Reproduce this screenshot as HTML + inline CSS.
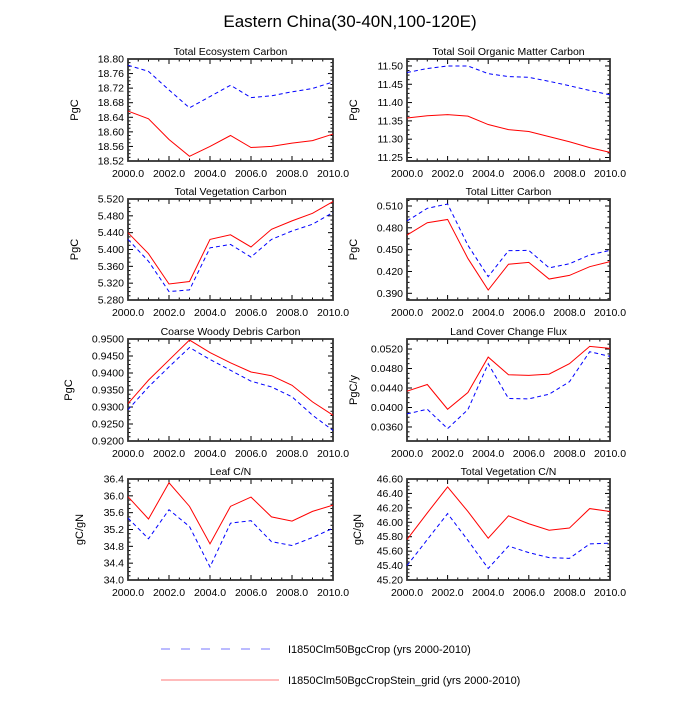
<!DOCTYPE html>
<html><head><meta charset="utf-8"><style>
body{margin:0;background:#fff;width:700px;height:700px;overflow:hidden}
svg text{font-family:"Liberation Sans",sans-serif;fill:#000}
</style></head><body>
<svg id="chart" width="700" height="700" viewBox="0 0 700 700" xmlns="http://www.w3.org/2000/svg">
<text x="350" y="27" font-size="17" text-anchor="middle">Eastern China(30-40N,100-120E)</text>
<g>
<line x1="161" y1="649" x2="276" y2="649" stroke="#7777ff" stroke-width="1" stroke-dasharray="9,11"/>
<text x="288" y="653" font-size="11">I1850Clm50BgcCrop (yrs 2000-2010)</text>
<line x1="161" y1="680" x2="279" y2="680" stroke="#ff7777" stroke-width="1"/>
<text x="288" y="684" font-size="11">I1850Clm50BgcCropStein_grid (yrs 2000-2010)</text>
</g>
</svg>
<script>
const years=[2000,2001,2002,2003,2004,2005,2006,2007,2008,2009,2010];
const ecoBlue=[18.783,18.766,18.715,18.666,18.697,18.728,18.694,18.699,18.710,18.719,18.737];
const ecoRed=[18.657,18.636,18.579,18.533,18.560,18.590,18.557,18.560,18.569,18.576,18.594];
const soilBlue=[11.482,11.493,11.500,11.500,11.479,11.471,11.469,11.458,11.446,11.433,11.421];
const soilRed=[11.358,11.364,11.367,11.363,11.340,11.326,11.321,11.307,11.293,11.277,11.264];
const vegBlue=[5.424,5.372,5.300,5.304,5.404,5.412,5.382,5.424,5.444,5.460,5.488];
const vegRed=[5.440,5.390,5.318,5.324,5.424,5.435,5.406,5.448,5.468,5.486,5.514];
const litBlue=[0.4894,0.5068,0.5127,0.456,0.4129,0.4486,0.449,0.425,0.4306,0.4427,0.449];
const litRed=[0.470,0.487,0.4915,0.4379,0.3945,0.430,0.4325,0.4096,0.4146,0.4266,0.4335];
const cwdBlue=[0.9292,0.9359,0.9418,0.9475,0.944,0.9408,0.9376,0.9359,0.9330,0.9276,0.9231];
const cwdRed=[0.9310,0.9379,0.9438,0.9497,0.9460,0.9430,0.9403,0.9392,0.9364,0.9315,0.9276];
const lccBlue=[0.03868,0.03964,0.03566,0.03957,0.04898,0.04184,0.04177,0.04273,0.04527,0.05145,0.05049];
const lccRed=[0.04335,0.04472,0.03964,0.04307,0.05035,0.04671,0.04658,0.04685,0.04898,0.05255,0.05214];
const leafBlue=[35.47,34.98,35.67,35.27,34.31,35.35,35.41,34.91,34.82,35.01,35.23];
const leafRed=[35.98,35.45,36.31,35.75,34.86,35.75,35.97,35.50,35.40,35.63,35.78];
const vcnBlue=[45.40,45.76,46.12,45.75,45.36,45.67,45.58,45.51,45.50,45.70,45.71];
const vcnRed=[45.76,46.13,46.49,46.15,45.78,46.09,45.98,45.89,45.92,46.19,46.15];
const xTickLabels=["2000.0","2002.0","2004.0","2006.0","2008.0","2010.0"];
const ecoTicks=["18.52","18.56","18.60","18.64","18.68","18.72","18.76","18.80"];
const soilTicks=["11.25","11.30","11.35","11.40","11.45","11.50"];
const vegTicks=["5.280","5.320","5.360","5.400","5.440","5.480","5.520"];
const litTicks=["0.390","0.420","0.450","0.480","0.510"];
const cwdTicks=["0.9200","0.9250","0.9300","0.9350","0.9400","0.9450","0.9500"];
const lccTicks=["0.0360","0.0400","0.0440","0.0480","0.0520"];
const leafTicks=["34.0","34.4","34.8","35.2","35.6","36.0","36.4"];
const vcnTicks=["45.20","45.40","45.60","45.80","46.00","46.20","46.40","46.60"];

const svg=document.getElementById('chart');
const NS='http://www.w3.org/2000/svg';
function mk(tag,attrs,parent){const e=document.createElementNS(NS,tag);for(const k in attrs)e.setAttribute(k,attrs[k]);parent.appendChild(e);return e;}
const panels=[
 {name:'total-ecosystem-carbon',title:'Total Ecosystem Carbon',unit:'PgC',x0:128,x1:333,y0:59,y1:161,ymin:18.52,ymax:18.80,ticks:ecoTicks,b:ecoBlue,r:ecoRed,lx:78},
 {name:'total-soil-carbon',title:'Total Soil Organic Matter Carbon',unit:'PgC',x0:407,x1:610,y0:59,y1:161,ymin:11.2404,ymax:11.519,ticks:soilTicks,b:soilBlue,r:soilRed,lx:357},
 {name:'total-vegetation-carbon',title:'Total Vegetation Carbon',unit:'PgC',x0:128,x1:333,y0:199,y1:300,ymin:5.280,ymax:5.520,ticks:vegTicks,b:vegBlue,r:vegRed,lx:78},
 {name:'total-litter-carbon',title:'Total Litter Carbon',unit:'PgC',x0:407,x1:610,y0:199,y1:300,ymin:0.3808,ymax:0.5196,ticks:litTicks,b:litBlue,r:litRed,lx:357},
 {name:'coarse-woody-debris-carbon',title:'Coarse Woody Debris Carbon',unit:'PgC',x0:128,x1:333,y0:339,y1:441,ymin:0.92,ymax:0.95,ticks:cwdTicks,b:cwdBlue,r:cwdRed,lx:72},
 {name:'land-cover-change-flux',title:'Land Cover Change Flux',unit:'PgC/y',x0:407,x1:610,y0:339,y1:441,ymin:0.03312,ymax:0.05406,ticks:lccTicks,b:lccBlue,r:lccRed,lx:357},
 {name:'leaf-cn',title:'Leaf C/N',unit:'gC/gN',x0:128,x1:333,y0:479,y1:580,ymin:34.0,ymax:36.4,ticks:leafTicks,b:leafBlue,r:leafRed,lx:83},
 {name:'total-vegetation-cn',title:'Total Vegetation C/N',unit:'gC/gN',x0:407,x1:610,y0:479,y1:580,ymin:45.20,ymax:46.60,ticks:vcnTicks,b:vcnBlue,r:vcnRed,lx:361}
];
panels.forEach(p=>{
 const g=mk('g',{},svg);
 
 
 const sx=v=>p.x0+(v-2000)/10*(p.x1-p.x0);
 const sy=v=>p.y1-(v-p.ymin)/(p.ymax-p.ymin)*(p.y1-p.y0);
 const t=mk('text',{x:(p.x0+p.x1)/2,y:p.y0-4,'font-size':10.5,'text-anchor':'middle'},g);t.textContent=p.title;
 
 
 const yl=mk('text',{x:p.lx,y:(p.y0+p.y1)/2,'font-size':11,'text-anchor':'middle',transform:`rotate(-90 ${p.lx} ${(p.y0+p.y1)/2})`},g);yl.textContent=p.unit;
 
 
 for(let yv=2000;yv<=2010.001;yv+=0.5){const X=sx(yv);const maj=Math.abs(yv%2)<1e-6;const L=maj?5:2.5;
  mk('line',{x1:X,y1:p.y1,x2:X,y2:p.y1-L,stroke:'#000','stroke-width':1},g);
  mk('line',{x1:X,y1:p.y0,x2:X,y2:p.y0+L,stroke:'#000','stroke-width':1},g);}
 xTickLabels.forEach(s=>{const tl=mk('text',{x:sx(parseFloat(s)),y:p.y1+16,'font-size':10.5,'text-anchor':'middle'},g);tl.textContent=s;
  
  });
 const tv=p.ticks.map(parseFloat);const step=tv[1]-tv[0];
 for(let v=tv[0]-step;v<=tv[tv.length-1]+step+1e-9;v+=step/4){if(v<p.ymin-1e-9||v>p.ymax+1e-9)continue;const Y=sy(v);
  const maj=tv.some(q=>Math.abs(q-v)<step*1e-3);const L=maj?5:2.5;
  mk('line',{x1:p.x0,y1:Y,x2:p.x0+L,y2:Y,stroke:'#000','stroke-width':1},g);
  mk('line',{x1:p.x1,y1:Y,x2:p.x1-L,y2:Y,stroke:'#000','stroke-width':1},g);}
 p.ticks.forEach(s=>{const tl=mk('text',{x:p.x0-4,y:sy(parseFloat(s))+3.5,'font-size':10.5,'text-anchor':'end'},g);tl.textContent=s;
  
  });
 const fr=mk('rect',{x:p.x0,y:p.y0,width:p.x1-p.x0,height:p.y1-p.y0,fill:'none',stroke:'#333','stroke-width':1.8},g);
 
 
 const pb=mk('polyline',{points:years.map((y,i)=>sx(y)+','+sy(p.b[i])).join(' '),fill:'none',stroke:'#0000ff','stroke-width':1,'stroke-dasharray':'4,3'},g);
 
 
 const pr=mk('polyline',{points:years.map((y,i)=>sx(y)+','+sy(p.r[i])).join(' '),fill:'none',stroke:'#ff0000','stroke-width':1},g);
 
 
});
</script>
</body></html>
